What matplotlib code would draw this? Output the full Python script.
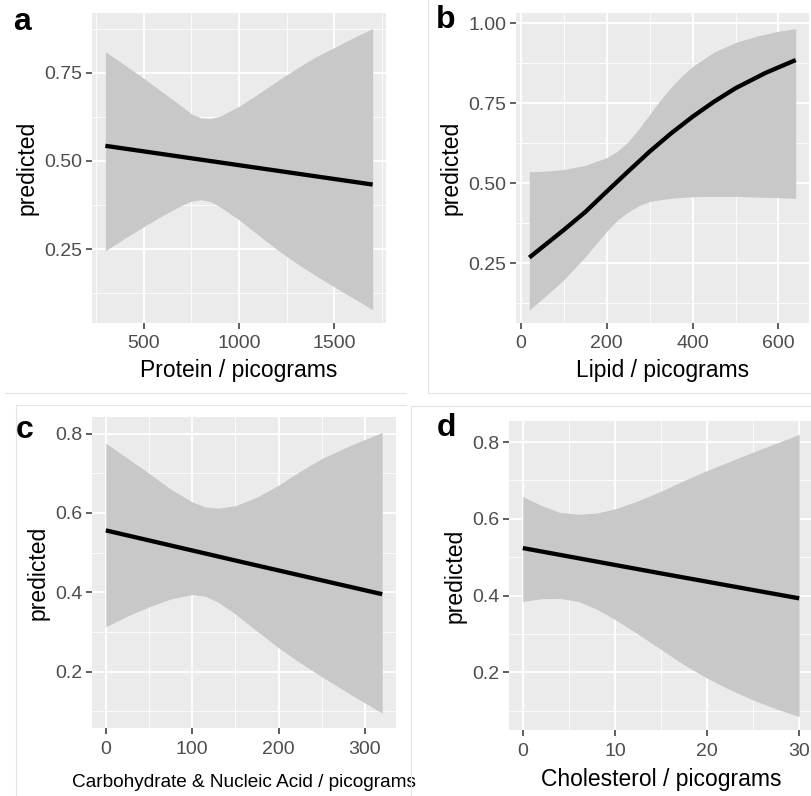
import matplotlib
matplotlib.use("Agg")
import matplotlib.pyplot as plt
from matplotlib.lines import Line2D

plt.rcParams['font.family'] = ['Liberation Sans', 'DejaVu Sans']

# panel a - protein
prot_x = [300, 1000, 1700]
prot_pred = [0.543, 0.488, 0.433]
prot_bx = [300, 400, 500, 600, 700, 750, 800, 850, 900, 1000, 1100, 1200, 1300, 1400, 1500, 1600, 1700]
prot_hi = [0.81, 0.773, 0.735, 0.695, 0.655, 0.634, 0.622, 0.62, 0.627, 0.655, 0.69, 0.727,
           0.762, 0.795, 0.822, 0.85, 0.876]
prot_lo = [0.245, 0.28, 0.313, 0.345, 0.374, 0.386, 0.39, 0.385, 0.37, 0.333, 0.29, 0.248,
           0.21, 0.175, 0.142, 0.11, 0.078]

# panel b - lipid
lip_x = [20, 100, 150, 200, 250, 300, 350, 400, 450, 500, 570, 640]
lip_pred = [0.268, 0.354, 0.41, 0.474, 0.537, 0.599, 0.656, 0.708, 0.755, 0.797, 0.845, 0.885]
lip_bx = [20, 60, 100, 150, 200, 225, 250, 275, 300, 325, 350, 375, 400, 450, 500, 550, 600, 640]
lip_hi = [0.536, 0.538, 0.543, 0.556, 0.58, 0.60, 0.63, 0.67, 0.715, 0.76, 0.80, 0.835,
          0.865, 0.91, 0.94, 0.96, 0.975, 0.983]
lip_lo = [0.104, 0.15, 0.198, 0.27, 0.35, 0.385, 0.41, 0.43, 0.443, 0.449, 0.453, 0.456,
          0.458, 0.459, 0.459, 0.457, 0.455, 0.453]

# panel c - carbohydrate & nucleic acid
carb_x = [0, 160, 320]
carb_pred = [0.556, 0.475, 0.395]
carb_bx = [0, 25, 50, 75, 100, 115, 130, 150, 175, 200, 225, 250, 285, 320]
carb_hi = [0.776, 0.738, 0.70, 0.66, 0.628, 0.615, 0.612, 0.618, 0.64, 0.67, 0.705, 0.737, 0.772, 0.803]
carb_lo = [0.313, 0.34, 0.363, 0.383, 0.394, 0.39, 0.375, 0.345, 0.302, 0.26, 0.222, 0.187, 0.14, 0.095]

# panel d - cholesterol
chol_x = [0, 15, 30]
chol_pred = [0.524, 0.458, 0.393]
chol_bx = [0, 2, 4, 6, 8, 10, 12.5, 15, 17.5, 20, 22.5, 25, 27.5, 30]
chol_hi = [0.658, 0.635, 0.617, 0.612, 0.615, 0.626, 0.647, 0.672, 0.70, 0.726, 0.75, 0.774, 0.797, 0.82]
chol_lo = [0.385, 0.392, 0.393, 0.385, 0.365, 0.338, 0.30, 0.26, 0.22, 0.185, 0.155, 0.128, 0.105, 0.085]

W, H = 812, 796
fig = plt.figure(figsize=(W / 100, H / 100), dpi=100)


def box(x0, x1, y0, y1):
    return [x0 / W, 1 - y1 / H, (x1 - x0) / W, (y1 - y0) / H]


def panel(pos, bx, lo, hi, lx, ly, xlim, ylim, xmaj, xmin, ymaj, ymin, ylabels, xlabel,
          xfs=16.5, xpad=5):
    ax = fig.add_axes(pos)
    ax.set_facecolor('#ebebeb')
    for s in ax.spines.values():
        s.set_visible(False)
    ax.set_xlim(xlim)
    ax.set_ylim(ylim)
    ax.set_xticks(xmaj)
    ax.set_xticks(xmin, minor=True)
    ax.set_yticks(ymaj)
    ax.set_yticks(ymin, minor=True)
    ax.set_yticklabels(ylabels)
    ax.grid(which='major', color='white', lw=1.3)
    ax.grid(which='minor', color='white', lw=0.6)
    ax.set_axisbelow(True)
    ax.tick_params(which='major', length=4, width=1.1, color='#333333', labelcolor='#4d4d4d',
                   labelsize=14, pad=3)
    ax.tick_params(axis='x', which='major', pad=5)
    ax.tick_params(which='minor', length=0)
    ax.fill_between(bx, lo, hi, color='#c8c8c8', lw=0)
    ax.plot(lx, ly, color='black', lw=3.1, solid_capstyle='butt')
    ax.set_ylabel('predicted', fontsize=16.5, labelpad=4)
    ax.set_xlabel(xlabel, fontsize=xfs, labelpad=xpad)
    return ax


panel(box(92, 386, 13, 323), prot_bx, prot_lo, prot_hi, prot_x, prot_pred,
      (230, 1770), (0.04, 0.92), [500, 1000, 1500], [250, 750, 1250, 1750],
      [0.25, 0.5, 0.75], [0.125, 0.375, 0.625, 0.875], ['0.25', '0.50', '0.75'],
      'Protein / picograms')

panel(box(516, 809, 13, 323), lip_bx, lip_lo, lip_hi, lip_x, lip_pred,
      (-11, 671), (0.0635, 1.032), [0, 200, 400, 600], [100, 300, 500],
      [0.25, 0.5, 0.75, 1.0], [0.125, 0.375, 0.625, 0.875], ['0.25', '0.50', '0.75', '1.00'],
      'Lipid / picograms')

panel(box(92, 396, 417, 728), carb_bx, carb_lo, carb_hi, carb_x, carb_pred,
      (-16, 336), (0.0575, 0.842), [0, 100, 200, 300], [50, 150, 250],
      [0.2, 0.4, 0.6, 0.8], [0.1, 0.3, 0.5, 0.7], ['0.2', '0.4', '0.6', '0.8'],
      'Carbohydrate & Nucleic Acid / picograms', xfs=13.7, xpad=12)

panel(box(509, 813, 421, 730), chol_bx, chol_lo, chol_hi, chol_x, chol_pred,
      (-1.5, 31.5), (0.05, 0.855), [0, 10, 20, 30], [5, 15, 25],
      [0.2, 0.4, 0.6, 0.8], [0.1, 0.3, 0.5, 0.7], ['0.2', '0.4', '0.6', '0.8'],
      'Cholesterol / picograms', xpad=6)

# panel letters
for lab, x, y in [('a', 22, 22), ('b', 446, 20), ('c', 25, 430), ('d', 446, 428)]:
    fig.text(x / W, 1 - y / H, lab, fontsize=23, fontweight='bold', ha='center', va='center')

# faint borders of the composed sub-images
faint = '#e4e4e4'
for (x0, y0, x1, y1) in [(428, 0, 428, 393), (428, 393, 812, 393), (5, 393, 406, 393),
                         (16, 405, 406, 405), (16, 405, 16, 796), (411, 406, 812, 406),
                         (411, 406, 411, 796)]:
    fig.add_artist(Line2D([x0 / W, x1 / W], [1 - y0 / H, 1 - y1 / H], color=faint, lw=0.8))

fig.savefig('out.png', dpi=100)
